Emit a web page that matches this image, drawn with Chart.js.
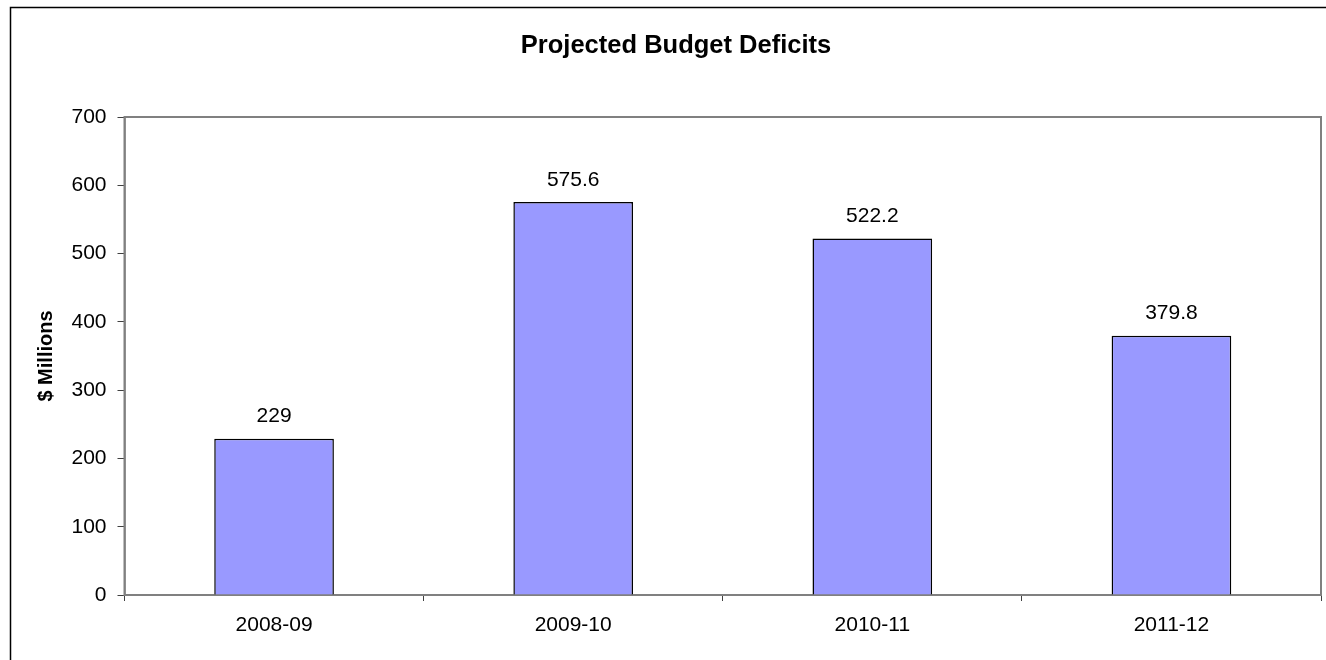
<!DOCTYPE html>
<html>
<head>
<meta charset="utf-8">
<title>Projected Budget Deficits</title>
<script src="https://cdn.jsdelivr.net/npm/chart.js@4"></script>
<style>
    body { margin: 0; background: #fff; overflow: hidden; }
    #wrap { width: 1326px; height: 660px; position: relative; }
</style>
</head>
<body>
<div id="wrap"><canvas id="budget-chart"></canvas></div>
<script>
const years = ['2008-09', '2009-10', '2010-11', '2011-12'];
const deficits = [229, 575.6, 522.2, 379.8];
const deficitLabels = ['229', '575.6', '522.2', '379.8'];
const yTicks = [0, 100, 200, 300, 400, 500, 600, 700];

const FONT = '"Liberation Sans", Arial, sans-serif';

// outer frame of the chart (only top and left edges fall inside the window)
const framePlugin = {
    id: 'frame',
    beforeDraw(chart) {
        const ctx = chart.ctx;
        ctx.save();
        ctx.strokeStyle = '#000';
        ctx.lineWidth = 1.5;
        ctx.strokeRect(10.5, 7.5, 1400, 700);
        ctx.restore();
    }
};

// gray box round the plot area
const plotBorder = {
    id: 'plotBorder',
    beforeDatasetsDraw(chart) {
        const { ctx, chartArea } = chart;
        ctx.save();
        ctx.strokeStyle = '#808080';
        ctx.lineWidth = 2;
        ctx.strokeRect(chartArea.left, chartArea.top, chartArea.right - chartArea.left, chartArea.bottom - chartArea.top);
        ctx.restore();
    }
};

// value above each bar
const barValues = {
    id: 'barValues',
    afterDatasetsDraw(chart) {
        const ctx = chart.ctx;
        const meta = chart.getDatasetMeta(0);
        ctx.save();
        ctx.font = '21px ' + FONT;
        ctx.fillStyle = '#000';
        ctx.textAlign = 'center';
        ctx.textBaseline = 'middle';
        meta.data.forEach((bar, i) => {
            ctx.fillText(deficitLabels[i], bar.x, bar.y - 22);
        });
        ctx.restore();
    }
};

const ctx = document.getElementById('budget-chart');
// eslint-disable-next-line no-undef, no-unused-vars
const budgetChart = new Chart(ctx, {
    type: 'bar',
    data: {
        labels: years,
        datasets: [{
            label: 'Deficit',
            data: deficits,
            backgroundColor: '#9999FF',
            borderColor: '#000',
            borderWidth: 1.5,
            barPercentage: 0.4,
            categoryPercentage: 1
        }]
    },
    options: {
        responsive: true,
        maintainAspectRatio: false,
        animation: false,
        layout: {
            padding: { left: 31, right: 5, top: 0, bottom: 0 }
        },
        plugins: {
            legend: { display: false },
            tooltip: { enabled: false },
            title: {
                display: true,
                text: 'Projected Budget Deficits',
                color: '#000',
                font: { family: FONT, size: 25.5, weight: 'bold', lineHeight: 1.2 },
                padding: { top: 31, bottom: 55.4 }
            }
        },
        scales: {
            x: {
                grid: {
                    offset: true,
                    drawOnChartArea: false,
                    drawTicks: true,
                    tickLength: 6,
                    color: '#404040'
                },
                border: { display: true, color: '#404040', width: 2 },
                ticks: {
                    color: '#000',
                    padding: 12,
                    font: { family: FONT, size: 21 }
                },
                afterFit(scale) { scale.height = 65; }
            },
            y: {
                min: 0,
                max: 700,
                afterBuildTicks(scale) {
                    scale.ticks = yTicks.map(v => ({ value: v }));
                },
                grid: {
                    drawOnChartArea: false,
                    drawTicks: true,
                    tickLength: 7,
                    color: '#404040'
                },
                border: { display: true, color: '#404040', width: 1.5 },
                ticks: {
                    color: '#000',
                    padding: 11,
                    font: { family: FONT, size: 21 }
                },
                title: {
                    display: true,
                    text: '$ Millions',
                    color: '#000',
                    font: { family: FONT, size: 20, weight: 'bold', lineHeight: 1.2 },
                    padding: { top: 3, bottom: 0 }
                },
                afterFit(scale) { scale.width = 93.5; }
            }
        }
    },
    plugins: [framePlugin, plotBorder, barValues]
});
</script>
</body>
</html>
